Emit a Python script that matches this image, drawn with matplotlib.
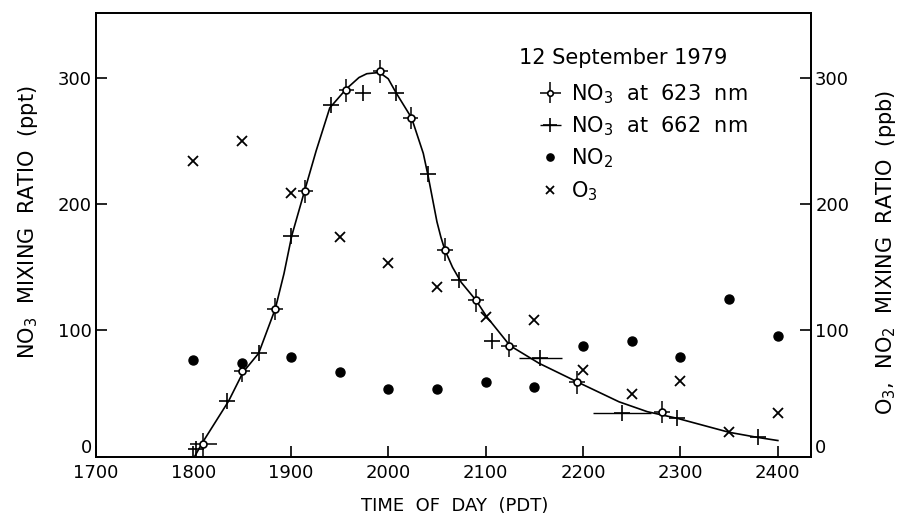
import matplotlib
matplotlib.use("Agg")
import matplotlib.pyplot as plt

plt.rcParams.update({
    'font.family': ['DejaVu Sans'],
    'mathtext.fontset': 'dejavusans',
    'axes.linewidth': 1.3,
})

# ---- data (time as hhmm on a linear hour scale) ----
half_hours = [1800, 1850, 1900, 1950, 2000, 2050, 2100, 2150, 2200, 2250, 2300, 2350, 2400]
no2_ppb = [77, 74, 79, 67, 54, 54, 59, 55, 88, 92, 79, 125, 96]
o3_ppb = [234, 250, 209, 174, 153, 134, 111, 108, 69, 50, 60, 19.5, 34.5]

no3_623_time = [1810, 1850, 1884, 1915, 1957, 1992, 2023, 2058, 2090, 2124, 2194, 2281]
no3_623_ppt = [10, 68, 117, 210, 290, 305, 268, 164, 124, 88, 59, 35.5]
no3_623_xerr = [14, 8, 8, 8, 8, 8, 8, 8, 8, 8, 8, 8]
no3_623_yerr = [9, 9, 9, 9, 9, 9, 9, 9, 9, 9, 9, 9]

no3_662_time = [1803, 1834, 1867, 1900, 1941, 1974, 2008, 2041, 2073, 2107, 2156, 2240, 2296, 2380]
no3_662_ppt = [6, 44, 82, 175, 278, 287.5, 288, 224, 140, 92, 78, 35, 31, 15.5]
no3_662_xerr = [0, 0, 0, 0, 0, 0, 0, 0, 0, 0, 22, 30, 0, 0]

# hand-drawn fit curve, traced
curve_time = [1801, 1809, 1836, 1851, 1867, 1884, 1893, 1901, 1914, 1926, 1940, 1957, 1970, 1978,
              1991, 2000, 2008, 2024, 2036, 2041, 2046, 2050, 2054, 2058, 2066, 2075, 2090, 2101,
              2125, 2155, 2195, 2237, 2266, 2297, 2350, 2379, 2400]
curve_ppt = [0, 11, 44, 67, 82, 117, 145, 175, 210, 242, 276, 291, 300, 303,
             304, 299, 288, 268, 240, 222, 202, 186, 174, 164, 150, 138, 124, 111,
             88, 74, 59, 43.6, 35.8, 30.5, 19.5, 15.5, 13]

fig = plt.figure(figsize=(9.03, 5.24), dpi=100)
ax = fig.add_axes([0.1063, 0.1279, 0.7918, 0.8473])
ax2 = ax.twinx()

ax.plot(curve_time, curve_ppt, color='black', lw=1.2, zorder=2)

h623 = ax.errorbar(no3_623_time, no3_623_ppt, xerr=no3_623_xerr, yerr=no3_623_yerr,
                   fmt='o', ms=5, mfc='white', mec='black', mew=1.2,
                   ecolor='black', elinewidth=1.1, capsize=0, zorder=4)
h662 = ax.errorbar(no3_662_time, no3_662_ppt, xerr=no3_662_xerr,
                   fmt='+', ms=12, mew=1.2, color='black',
                   ecolor='black', elinewidth=1.0, capsize=0, zorder=3)
hno2, = ax.plot(half_hours, no2_ppb, 'o', ms=6.5, color='black', ls='none', zorder=3)
ho3, = ax.plot(half_hours, o3_ppb, 'x', ms=6.5, mew=1.3, color='black', ls='none', zorder=3)

ax.set_xticks(range(1700, 2401, 100))
ax.set_yticks([0, 100, 200, 300])
ax.tick_params(direction='in', length=8, width=1.2, labelsize=13, pad=5)
ax.tick_params(axis='y', pad=3)

ax2.set_yticks([0, 100, 200, 300])
ax2.tick_params(direction='in', length=8, width=1.2, labelsize=13, pad=3)

# the two zero labels sit a little above the baseline, clear of "1700"
ax.get_yticklabels()[0].set_va('bottom')
ax2.get_yticklabels()[0].set_va('bottom')

ax.set_xlabel('TIME  OF  DAY  (PDT)', fontsize=13)
ax.xaxis.set_label_coords(0.502, -0.09)
ax.set_ylabel('NO$_3$  MIXING  RATIO  (ppt)', fontsize=15)
ax.yaxis.set_label_coords(-0.078, 0.53)
ax2.set_ylabel('O$_3$,  NO$_2$  MIXING  RATIO  (ppb)', fontsize=15)
ax2.yaxis.set_label_coords(1.088, 0.46)

ax.text(519 / 903, 1 - 58 / 524, '12 September 1979', transform=fig.transFigure,
        fontsize=15, ha='left', va='center')

leg = ax.legend([h623, h662, hno2, ho3],
                ['NO$_3$  at  623  nm', 'NO$_3$  at  662  nm', 'NO$_2$', 'O$_3$'],
                loc='upper left', bbox_to_anchor=(538 / 903, 1 - 82 / 524),
                bbox_transform=fig.transFigure, frameon=False, fontsize=15,
                handlelength=1.2, handletextpad=0.4, labelspacing=0.42,
                borderpad=0, borderaxespad=0, markerscale=0.8)

# limits last so nothing above can re-autoscale them
ax.set_xlim(1700, 2434)
ax.set_ylim(0, 351)
ax2.set_ylim(0, 351)

fig.savefig('out.png', dpi=100)
